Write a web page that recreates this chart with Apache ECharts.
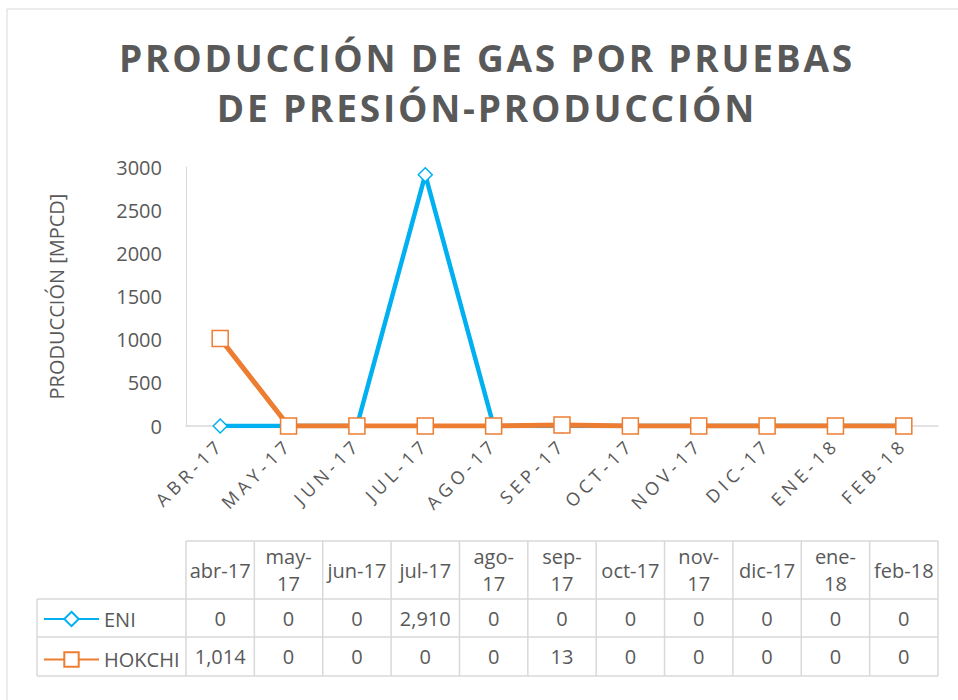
<!DOCTYPE html>
<html lang="es">
<head>
	<meta charset="UTF-8">
	<title>Producción de gas</title>
	<style>
		html, body { margin: 0; padding: 0; background: #fff; }
		#main { width: 958px; height: 700px; }
	</style>
</head>
<body>
	<div id="main"></div>
	<script src="https://cdn.jsdelivr.net/npm/echarts@6/dist/echarts.min.js"></script>
	<script>
		// datos
		var meses = ['abr-17', 'may-17', 'jun-17', 'jul-17', 'ago-17', 'sep-17', 'oct-17', 'nov-17', 'dic-17', 'ene-18', 'feb-18'];
		var encabezados = ['abr-17', 'may-\n17', 'jun-17', 'jul-17', 'ago-\n17', 'sep-\n17', 'oct-17', 'nov-\n17', 'dic-17', 'ene-\n18', 'feb-18'];
		var eni = [0, 0, 0, 2910, 0, 0, 0, 0, 0, 0, 0];
		var hokchi = [1014, 0, 0, 0, 0, 13, 0, 0, 0, 0, 0];
		var lineasTitulo = ['PRODUCCIÓN DE GAS POR PRUEBAS', 'DE PRESIÓN-PRODUCCIÓN'];

		var gris = '#595959';
		var borde = '#d9d9d9';
		var fuente = 'Open Sans';

		var myChart = echarts.init(document.getElementById('main'), null, { renderer: 'svg' });

		var option = {
			animation: false,
			legend: {
				orient: 'vertical',
				left: 43,
				top: 609,
				padding: 0,
				itemWidth: 55,
				itemHeight: 18,
				itemGap: 20.5,
				selectedMode: false,
				textStyle: { color: gris, fontFamily: fuente, fontSize: 20, lineHeight: 18 },
				data: ['ENI', 'HOKCHI']
			},
			grid: { left: 186, right: 20, top: 167, bottom: 274 },
			xAxis: {
				type: 'category',
				data: meses,
				axisLine: { lineStyle: { color: borde, width: 1.5 } },
				axisTick: { show: false },
				axisLabel: {
					rotate: 45,
					margin: 15,
					padding: [20, 0, 0, 0],
					color: gris,
					fontFamily: fuente,
					fontSize: 18,
					interval: 0,
					formatter: function (v) { return v.toUpperCase(); }
				}
			},
			yAxis: {
				type: 'value',
				min: 0,
				max: 3000,
				interval: 500,
				name: 'PRODUCCIÓN [MPCD]',
				nameLocation: 'middle',
				nameGap: 120,
				nameTextStyle: { color: gris, fontFamily: fuente, fontSize: 20 },
				axisLine: { show: true, lineStyle: { color: borde, width: 1 } },
				axisTick: { show: false },
				splitLine: { show: false },
				axisLabel: {
					color: gris, fontFamily: fuente, fontSize: 20, margin: 24,
					formatter: function (v) { return String(v); }
				}
			},
			series: [{
				name: 'ENI',
				type: 'line',
				data: eni,
				symbol: 'diamond',
				symbolSize: 14,
				showAllSymbol: true,
				lineStyle: { color: '#00B0F0', width: 4.5 },
				itemStyle: { color: '#fff', borderColor: '#00B0F0', borderWidth: 1.5 }
			}, {
				name: 'HOKCHI',
				type: 'line',
				data: hokchi,
				symbol: 'rect',
				symbolSize: 16,
				showAllSymbol: true,
				lineStyle: { color: '#ED7D31', width: 5 },
				itemStyle: { color: '#fff', borderColor: '#ED7D31', borderWidth: 1.5 }
			}]
		};
		myChart.setOption(option);

		// tabla de datos debajo del eje, columnas alineadas con las categorias
		var centros = meses.map(function (m) {
			return myChart.convertToPixel({ xAxisIndex: 0 }, m);
		});
		var paso = centros[1] - centros[0];
		var x0 = centros[0] - paso / 2;
		var x1 = centros[centros.length - 1] + paso / 2;
		var yTop = 541, yHead = 599, yEni = 637, yHok = 676, xLeg = 37;

		function linea(a, b, c, d) {
			return { type: 'line', silent: true, shape: { x1: a, y1: b, x2: c, y2: d }, style: { stroke: borde, lineWidth: 1.5 } };
		}
		function texto(x, y, t) {
			return {
				type: 'text', silent: true, x: x, y: y,
				style: { text: t, fill: gris, font: '20px "Open Sans"', align: 'center', verticalAlign: 'middle', lineHeight: 27 }
			};
		}
		function fmt(v) { return v.toLocaleString('en-US'); }

		var g = [];
		g.push({ type: 'rect', silent: true, shape: { x: 7, y: 9, width: 1200, height: 1200 }, style: { fill: 'none', stroke: borde, lineWidth: 1 } });
		// titulo
		g.push({
			type: 'text', silent: true, x: 487, y: 82,
			style: {
				text: lineasTitulo.join('\n'), fill: gris, font: 'bold 37px "Open Sans"',
				align: 'center', verticalAlign: 'middle', lineHeight: 50
			}
		});
		g.push(linea(x0, yTop, x1, yTop));
		g.push(linea(xLeg, yHead, x1, yHead));
		g.push(linea(xLeg, yEni, x1, yEni));
		g.push(linea(xLeg, yHok, x1, yHok));
		g.push(linea(xLeg, yHead, xLeg, yHok));
		for (var i = 0; i <= meses.length; i++) {
			var xx = x0 + i * paso;
			g.push(linea(xx, yTop, xx, yHok));
		}
		centros.forEach(function (cx, i) {
			g.push(texto(cx, (yTop + yHead) / 2, encabezados[i]));
			g.push(texto(cx, (yHead + yEni) / 2, fmt(eni[i])));
			g.push(texto(cx, (yEni + yHok) / 2, fmt(hokchi[i])));
		});
		myChart.setOption({ graphic: g });

		// espaciado de letras como en el original
		var etiquetasX = meses.map(function (m) { return m.toUpperCase(); });
		function espaciar() {
			document.querySelectorAll('#main svg text').forEach(function (t) {
				var s = t.textContent;
				if (lineasTitulo.indexOf(s) >= 0) t.style.letterSpacing = '2.8px';
				else if (etiquetasX.indexOf(s) >= 0) t.style.letterSpacing = '4.5px';
			});
		}
		espaciar();
		myChart.on('finished', espaciar);
		setTimeout(espaciar, 50);
	</script>
</body>
</html>
